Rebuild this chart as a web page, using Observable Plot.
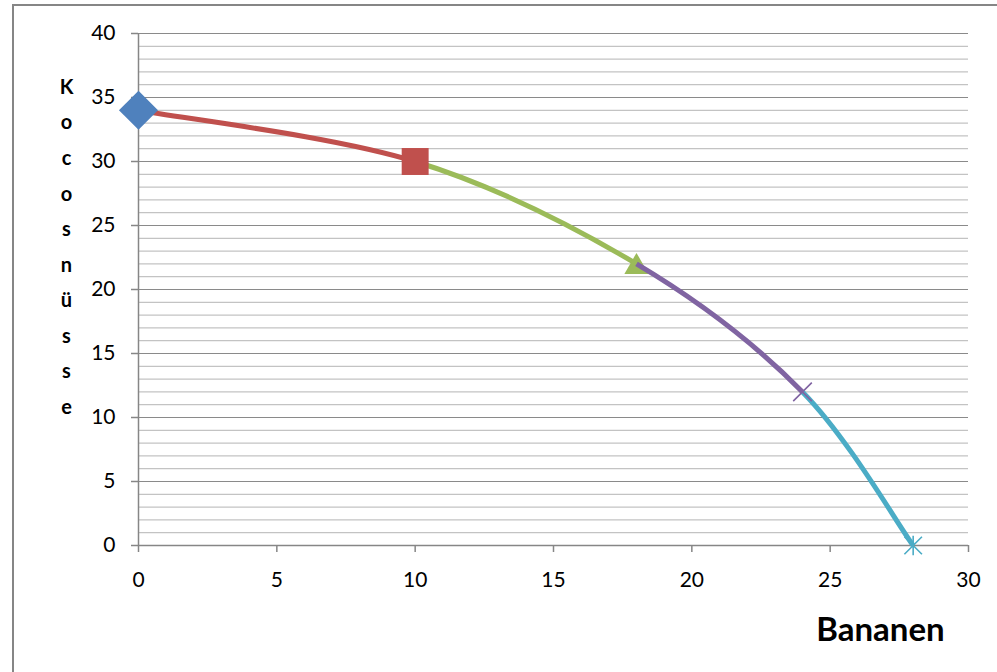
<!DOCTYPE html>
<html>
<head>
<meta charset="utf-8">
<script src="https://cdn.jsdelivr.net/npm/d3@7"></script>
<script src="https://cdn.jsdelivr.net/npm/@observablehq/plot@0.6"></script>
<style>
  html, body { margin: 0; padding: 0; background: #fff; }
  #wrap { position: relative; width: 997px; height: 672px; overflow: hidden; }
  #border { position: absolute; left: 12px; top: 4px; width: 1000px; height: 700px;
            border-left: 2px solid #868686; border-top: 2px solid #868686; pointer-events: none; }
</style>
</head>
<body>
<div id="wrap"><div id="chart"></div><div id="border"></div></div>
<script>
// ---- data ----
const bananen = [0, 10, 18, 24, 28];
const kokosnuesse = [34, 30, 22, 12, 0];
const xTicks = [0, 5, 10, 15, 20, 25, 30];
const yTicks = [0, 5, 10, 15, 20, 25, 30, 35, 40];
const yMinorTicks = d3.range(0, 41).filter(v => v % 5 !== 0);
const xTitle = "Bananen";
const yTitle = "Kocosnüsse";
const segmentColors = ["#C0504D", "#9BBB59", "#8064A2", "#4BACC6"];
const markerColors = ["#4F81BD", "#C0504D", "#9BBB59", "#8064A2", "#4BACC6"];

const points = bananen.map((b, i) => ({b, k: kokosnuesse[i]}));

// Smooth (Catmull-Rom like Excel) curve through all points, emitting only segment k
function segmentCurve(k) {
  return function(context) {
    let pts = [];
    return {
      areaStart() {}, areaEnd() {},
      lineStart() { pts = []; },
      point(x, y) { pts.push([+x, +y]); },
      lineEnd() {
        const p1 = pts[k], p2 = pts[k + 1];
        const p0 = pts[k - 1] || p1, p3 = pts[k + 2] || p2;
        context.moveTo(p1[0], p1[1]);
        context.bezierCurveTo(
          p1[0] + (p2[0] - p0[0]) / 6, p1[1] + (p2[1] - p0[1]) / 6,
          p2[0] - (p3[0] - p1[0]) / 6, p2[1] - (p3[1] - p1[1]) / 6,
          p2[0], p2[1]);
      }
    };
  };
}

// custom Excel-like star: X plus vertical bar
const starSymbol = {
  draw(context, size) {
    const r = Math.sqrt(size) * 0.55;
    context.moveTo(-r, -r); context.lineTo(r, r);
    context.moveTo(-r, r); context.lineTo(r, -r);
    context.moveTo(0, -r * 1.1); context.lineTo(0, r * 1.1);
  }
};

const seg = (i) => Plot.line(points, {x: "b", y: "k", stroke: segmentColors[i], strokeWidth: 5, curve: segmentCurve(i), strokeLinecap: "butt"});
const pt = (i) => points.slice(i, i + 1);

const chart = Plot.plot({
  width: 997,
  height: 672,
  marginLeft: 138,
  marginRight: 29,
  marginTop: 33,
  marginBottom: 127,
  style: {fontFamily: "Lato, 'Open Sans', sans-serif", fontSize: "21px", color: "#000", background: "transparent"},
  x: {domain: [0, 30]},
  y: {domain: [0, 40]},
  marks: [
    Plot.ruleY(yMinorTicks, {stroke: "#c3c3c3", strokeWidth: 1.2}),
    Plot.ruleY(yTicks, {stroke: "#8a8a8a", strokeWidth: 1.2}),
    Plot.ruleX([0], {stroke: "#868686", strokeWidth: 1.5}),
    Plot.ruleY([0], {stroke: "#868686", strokeWidth: 1.5}),
    Plot.axisY({ticks: yTicks, tickSize: 7, tickPadding: 16, stroke: "#868686", strokeWidth: 1.5, label: null, fontSize: 21}),
    Plot.axisX({ticks: xTicks, tickSize: 7, tickPadding: 20, stroke: "#868686", strokeWidth: 1.5, label: null, fontSize: 21}),
    seg(0), seg(1),
    Plot.dot(pt(0), {x: "b", y: "k", symbol: "diamond2", r: 17.6, fill: markerColors[0], stroke: "none"}),
    Plot.dot(pt(1), {x: "b", y: "k", symbol: "square", r: 15.2, fill: markerColors[1], stroke: "none"}),
    Plot.dot(pt(2), {x: "b", y: "k", symbol: "triangle", r: 9, fill: markerColors[2], stroke: "none", dy: 3}),
    seg(2), seg(3),
    Plot.dot(pt(3), {x: "b", y: "k", symbol: "times", r: 8.5, fill: "none", stroke: markerColors[3], strokeWidth: 1.6}),
    Plot.dot(pt(4), {x: "b", y: "k", symbol: starSymbol, r: 9, fill: "none", stroke: markerColors[4], strokeWidth: 1.6}),
    Plot.text([yTitle.split("").join("\n")], {text: d => d, frameAnchor: "left", dx: -72, dy: -47,
      lineHeight: 1.78, textAnchor: "middle", lineAnchor: "middle", fontWeight: "bold", fontSize: 20}),
    Plot.text([xTitle], {text: d => d, frameAnchor: "bottom-right", dx: -88, dy: 85,
      textAnchor: "middle", lineAnchor: "middle", fontWeight: "bold", fontSize: 33})
  ]
});
document.getElementById("chart").appendChild(chart);
</script>
</body>
</html>
